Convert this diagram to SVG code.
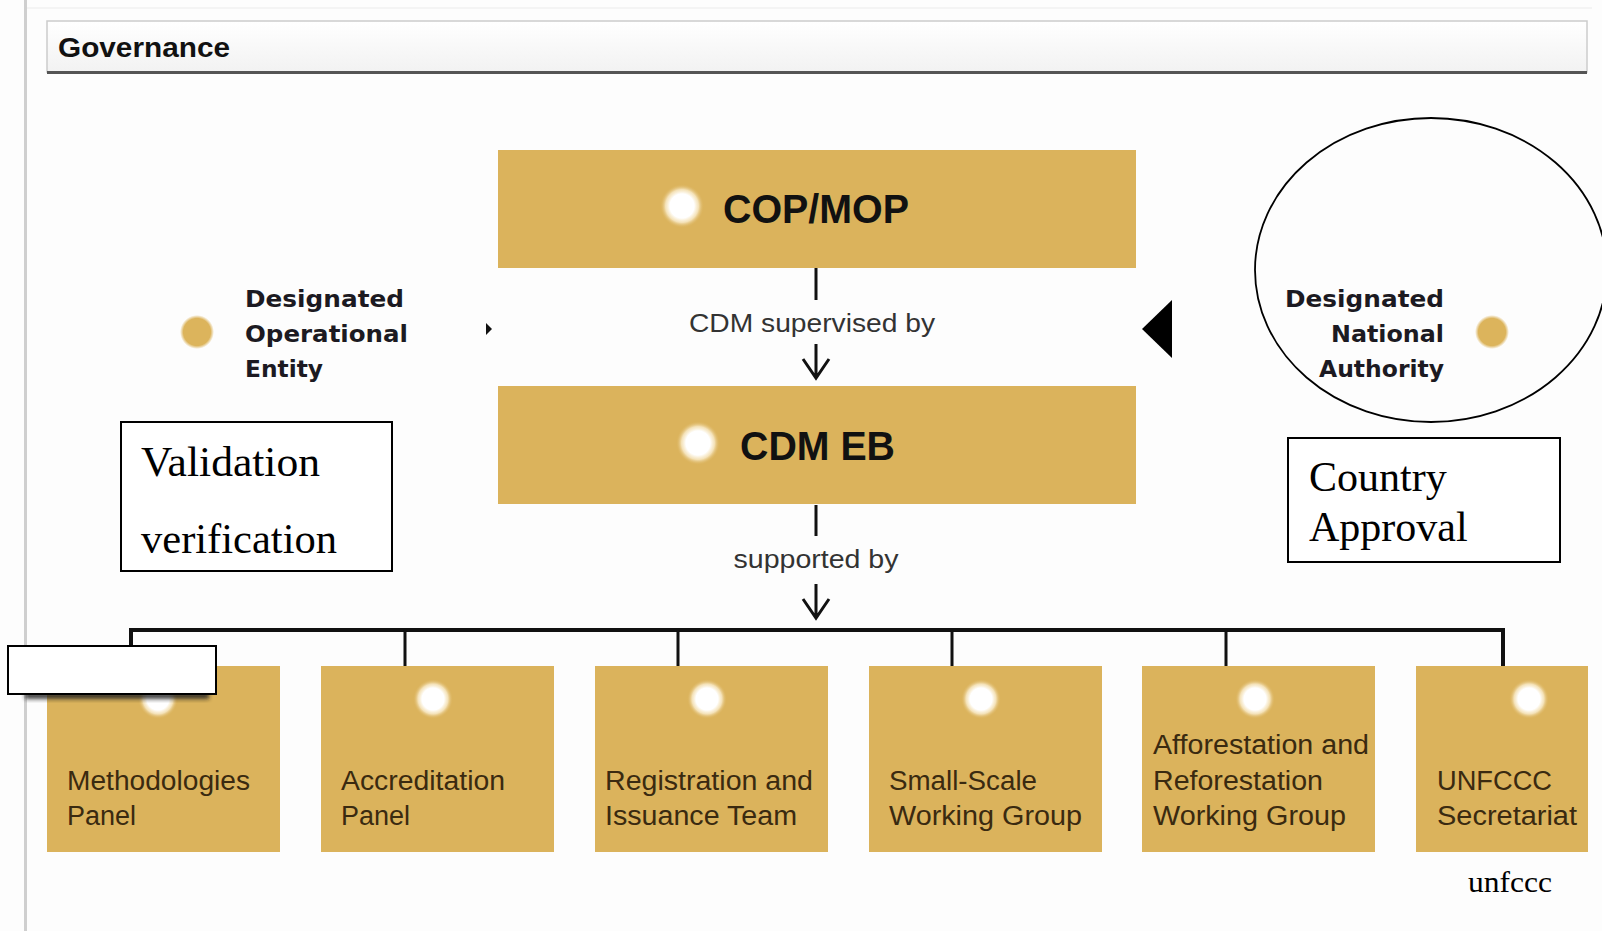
<svg xmlns="http://www.w3.org/2000/svg" width="1602" height="931" viewBox="0 0 1602 931">
  <defs>
    <radialGradient id="glow" cx="0.5" cy="0.5" r="0.5">
      <stop offset="0" stop-color="#ffffff"/>
      <stop offset="0.55" stop-color="#ffffff"/>
      <stop offset="0.75" stop-color="#fff6e0" stop-opacity="0.7"/>
      <stop offset="1" stop-color="#dbb35c" stop-opacity="0"/>
    </radialGradient>
    <radialGradient id="goldDot" cx="0.5" cy="0.5" r="0.5">
      <stop offset="0" stop-color="#dcb45c"/>
      <stop offset="0.8" stop-color="#dcb45c"/>
      <stop offset="1" stop-color="#dcb45c" stop-opacity="0"/>
    </radialGradient>
    <linearGradient id="headerFill" x1="0" y1="0" x2="0" y2="1">
      <stop offset="0" stop-color="#ffffff"/>
      <stop offset="1" stop-color="#f2f2f2"/>
    </linearGradient>
    <filter id="soft" x="-20%" y="-50%" width="140%" height="200%">
      <feGaussianBlur stdDeviation="2"/>
    </filter>
  </defs>
  <style>
    .gold { fill: #dbb35c; }
    .big { font-family: "Liberation Sans", Arial, sans-serif; font-weight: bold; font-size: 41px; fill: #111; }
    .lbl { font-family: "Liberation Sans", Arial, sans-serif; font-size: 25px; fill: #333; }
    .sub { font-family: "Liberation Sans", Arial, sans-serif; font-size: 27px; fill: #3a2a10; }
    .ent { font-family: "DejaVu Sans", Verdana, sans-serif; font-weight: bold; font-size: 23px; fill: #1c1a22; }
    .note { font-family: "Liberation Serif", "Times New Roman", serif; font-size: 42px; fill: #000; }
    .wire { fill: none; stroke: #111; stroke-width: 3; }
    .bus { fill: none; stroke: #111; stroke-width: 4; }
    .box { fill: #fff; stroke: #000; stroke-width: 2; }
  </style>

  <rect x="0" y="0" width="1602" height="931" fill="#fdfdfd"/>
  <!-- page frame -->
  <line x1="25.5" y1="0" x2="25.5" y2="931" stroke="#cfcfcf" stroke-width="3"/>
  <line x1="27" y1="8" x2="1592" y2="8" stroke="#f0f0f0" stroke-width="1.5"/>

  <!-- header bar -->
  <g id="header">
    <rect x="47" y="21" width="1540" height="51" fill="url(#headerFill)" stroke="#cccccc" stroke-width="1.5"/>
    <line x1="47" y1="72.5" x2="1587" y2="72.5" stroke="#555" stroke-width="3"/>
    <text x="58" y="57" font-family="Liberation Sans, Arial, sans-serif" font-weight="bold" font-size="28" fill="#111" textLength="172" lengthAdjust="spacingAndGlyphs">Governance</text>
  </g>

  <!-- connectors -->
  <g id="connectors">
    <line class="wire" x1="816" y1="268" x2="816" y2="300"/>
    <path class="wire" d="M816 344 V378 M803 359 L816 378 L829 359"/>
    <line class="wire" x1="816" y1="505" x2="816" y2="536"/>
    <path class="wire" d="M816 584 V618 M803 599 L816 618 L829 599"/>
    <path class="bus" d="M131 666 V630 H1503 V666"/>
    <path class="wire" d="M405 630 V666 M678 630 V666 M952 630 V666 M1226 630 V666"/>
    <text class="lbl" x="812" y="332" text-anchor="middle" textLength="246" lengthAdjust="spacingAndGlyphs">CDM supervised by</text>
    <text class="lbl" x="816" y="568" text-anchor="middle" textLength="165" lengthAdjust="spacingAndGlyphs">supported by</text>
    <path d="M486 323 L492 329 L486 335 Z" fill="#111"/>
    <path d="M1142 329 L1172 300 L1172 358 Z" fill="#000"/>
  </g>

  <g id="cop-mop">
    <rect class="gold" x="498" y="150" width="638" height="118"/>
    <circle cx="682" cy="206" r="22" fill="url(#glow)"/>
    <text class="big" x="723" y="223" textLength="186" lengthAdjust="spacingAndGlyphs">COP/MOP</text>
  </g>

  <g id="cdm-eb">
    <rect class="gold" x="498" y="386" width="638" height="118"/>
    <circle cx="698" cy="443" r="22" fill="url(#glow)"/>
    <text class="big" x="740" y="460" textLength="155" lengthAdjust="spacingAndGlyphs">CDM EB</text>
  </g>

  <g id="doe">
    <circle cx="197" cy="332" r="17" fill="url(#goldDot)"/>
    <text class="ent" x="245" y="307" textLength="159" lengthAdjust="spacingAndGlyphs">Designated</text>
    <text class="ent" x="245" y="342" textLength="163" lengthAdjust="spacingAndGlyphs">Operational</text>
    <text class="ent" x="245" y="377" textLength="78" lengthAdjust="spacingAndGlyphs">Entity</text>
  </g>

  <g id="dna">
    <ellipse cx="1431" cy="270" rx="176" ry="152" fill="none" stroke="#000" stroke-width="1.8"/>
    <text class="ent" x="1444" y="307" text-anchor="end" textLength="159" lengthAdjust="spacingAndGlyphs">Designated</text>
    <text class="ent" x="1444" y="342" text-anchor="end" textLength="113" lengthAdjust="spacingAndGlyphs">National</text>
    <text class="ent" x="1444" y="377" text-anchor="end" textLength="125" lengthAdjust="spacingAndGlyphs">Authority</text>
    <circle cx="1492" cy="332" r="17" fill="url(#goldDot)"/>
  </g>

  <g id="validation-note">
    <rect class="box" x="121" y="422" width="271" height="149"/>
    <text class="note" x="141" y="476" textLength="179" lengthAdjust="spacingAndGlyphs">Validation</text>
    <text class="note" x="141" y="553" textLength="196" lengthAdjust="spacingAndGlyphs">verification</text>
  </g>

  <g id="approval-note">
    <rect class="box" x="1288" y="438" width="272" height="124"/>
    <text class="note" x="1309" y="491">Country</text>
    <text class="note" x="1309" y="541">Approval</text>
  </g>

  <g id="methodologies-panel">
    <rect class="gold" x="47" y="666" width="233" height="186"/>
    <circle cx="158" cy="699" r="20" fill="url(#glow)"/>
    <text class="sub" x="67" y="790" textLength="183" lengthAdjust="spacingAndGlyphs">Methodologies</text>
    <text class="sub" x="67" y="825">Panel</text>
  </g>

  <g id="accreditation-panel">
    <rect class="gold" x="321" y="666" width="233" height="186"/>
    <circle cx="433" cy="699" r="20" fill="url(#glow)"/>
    <text class="sub" x="341" y="790" textLength="164" lengthAdjust="spacingAndGlyphs">Accreditation</text>
    <text class="sub" x="341" y="825">Panel</text>
  </g>

  <g id="registration-team">
    <rect class="gold" x="595" y="666" width="233" height="186"/>
    <circle cx="707" cy="699" r="20" fill="url(#glow)"/>
    <text class="sub" x="605" y="790" textLength="208" lengthAdjust="spacingAndGlyphs">Registration and</text>
    <text class="sub" x="605" y="825" textLength="192" lengthAdjust="spacingAndGlyphs">Issuance Team</text>
  </g>

  <g id="small-scale-group">
    <rect class="gold" x="869" y="666" width="233" height="186"/>
    <circle cx="981" cy="699" r="20" fill="url(#glow)"/>
    <text class="sub" x="889" y="790" textLength="148" lengthAdjust="spacingAndGlyphs">Small-Scale</text>
    <text class="sub" x="889" y="825" textLength="193" lengthAdjust="spacingAndGlyphs">Working Group</text>
  </g>

  <g id="ar-working-group">
    <rect class="gold" x="1142" y="666" width="233" height="186"/>
    <circle cx="1255" cy="699" r="20" fill="url(#glow)"/>
    <text class="sub" x="1153" y="754" textLength="216" lengthAdjust="spacingAndGlyphs">Afforestation and</text>
    <text class="sub" x="1153" y="790" textLength="170" lengthAdjust="spacingAndGlyphs">Reforestation</text>
    <text class="sub" x="1153" y="825" textLength="193" lengthAdjust="spacingAndGlyphs">Working Group</text>
  </g>

  <g id="unfccc-secretariat">
    <rect class="gold" x="1416" y="666" width="172" height="186"/>
    <circle cx="1529" cy="699" r="20" fill="url(#glow)"/>
    <text class="sub" x="1437" y="790" textLength="115" lengthAdjust="spacingAndGlyphs">UNFCCC</text>
    <text class="sub" x="1437" y="825" textLength="140" lengthAdjust="spacingAndGlyphs">Secretariat</text>
  </g>

  <!-- blank callout over first panel -->
  <g id="blank-callout">
    <rect x="25" y="692" width="184" height="7" fill="#222" filter="url(#soft)" opacity="0.85"/>
    <rect class="box" x="8" y="646" width="208" height="48"/>
  </g>

  <text id="source" x="1468" y="892" font-family="Liberation Serif, Times New Roman, serif" font-size="30" fill="#000" textLength="84" lengthAdjust="spacingAndGlyphs">unfccc</text>
</svg>
